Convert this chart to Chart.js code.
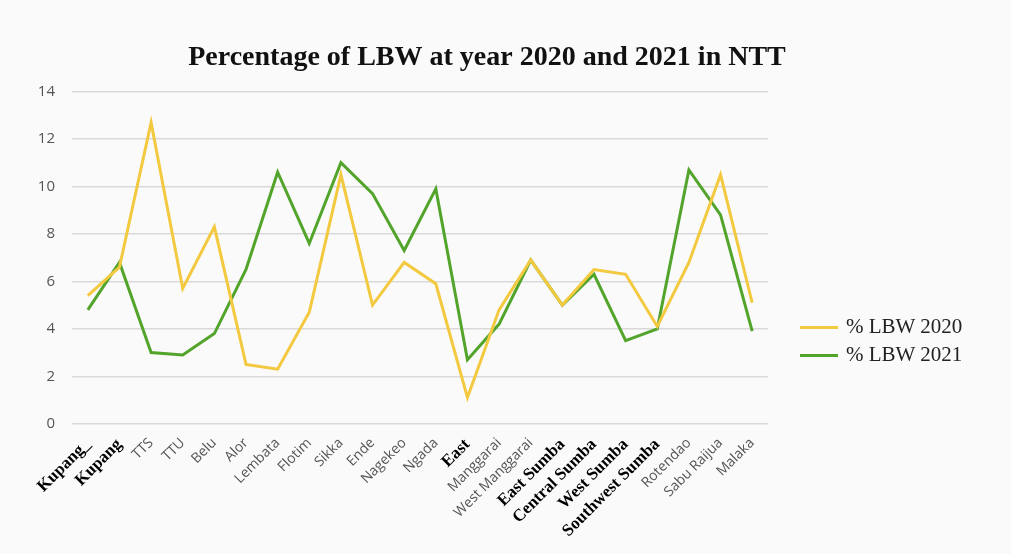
<!DOCTYPE html>
<html>
<head>
<meta charset="utf-8">
<script src="https://cdn.jsdelivr.net/npm/chart.js@4.4.0/dist/chart.umd.min.js"></script>
<style>
  html, body { margin: 0; padding: 0; background: #fafafa; }
  #wrap { position: relative; width: 1011px; height: 554px; }
  .legend { position: absolute; left: 800px; top: 312px; font-family: "Liberation Serif", serif; font-size: 21px; color: #222; }
  .legend div { height: 28px; line-height: 28px; white-space: nowrap; }
  .legend span { display: inline-block; width: 38px; height: 3px; vertical-align: middle; margin-right: 8px; position: relative; top: -1px; }
</style>
</head>
<body>
<div id="wrap">
  <canvas id="lbwChart"></canvas>
  <div class="legend" id="legend"></div>
</div>
<script>
// Districts of NTT
const districts = [
  "Kupang_", "Kupang", "TTS", "TTU", "Belu", "Alor", "Lembata", "Flotim",
  "Sikka", "Ende", "Nagekeo", "Ngada", "East", "Manggarai", "West Manggarai",
  "East Sumba", "Central Sumba", "West Sumba", "Southwest Sumba",
  "Rotendao", "Sabu Raijua", "Malaka"
];

// % LBW per year
const lbw2020 = [5.4, 6.6, 12.7, 5.7, 8.3, 2.5, 2.3, 4.7, 10.5, 5.0, 6.8, 5.9,
  1.1, 4.8, 6.9, 5.0, 6.5, 6.3, 4.1, 6.8, 10.5, 5.1];
const lbw2021 = [4.8, 6.8, 3.0, 2.9, 3.8, 6.5, 10.6, 7.6, 11.0, 9.7, 7.3, 9.9,
  2.7, 4.2, 6.9, 5.0, 6.3, 3.5, 4.0, 10.7, 8.8, 3.9];

const yTicks = [0, 2, 4, 6, 8, 10, 12, 14];

// labels that were pasted over in black serif
const pasted = [0, 1, 12, 15, 16, 17, 18];

const series = [
  { label: "% LBW 2020", data: lbw2020, color: "#f3c93f" },
  { label: "% LBW 2021", data: lbw2021, color: "#52a42b" }
];

const ctx = document.getElementById("lbwChart").getContext("2d");
new Chart(ctx, {
  type: "line",
  data: {
    labels: districts,
    datasets: series.map(s => ({
      label: s.label,
      data: s.data,
      borderColor: s.color,
      backgroundColor: s.color,
      borderWidth: 3,
      pointRadius: 0,
      tension: 0
    }))
  },
  options: {
    responsive: true,
    maintainAspectRatio: false,
    animation: false,
    layout: { padding: { top: 41, right: 37, left: 0, bottom: 10 } },
    plugins: {
      title: {
        display: true,
        text: "Percentage of LBW at year 2020 and 2021 in NTT",
        color: "#111",
        font: { family: "Liberation Serif", size: 28, weight: "bold" },
        padding: { top: 0, bottom: 17 }
      },
      legend: { display: false },
      tooltip: { enabled: false }
    },
    scales: {
      x: {
        offset: true,
        grid: { display: false },
        border: { display: false },
        ticks: {
          autoSkip: false,
          maxRotation: 45,
          minRotation: 45,
          color: c => pasted.includes(c.index) ? "#000" : "#555",
          font: c => pasted.includes(c.index)
            ? { family: "Liberation Serif", size: 17, weight: "bold" }
            : { family: "Open Sans", size: 14 }
        }
      },
      y: {
        min: 0,
        max: 14,
        afterBuildTicks: axis => { axis.ticks = yTicks.map(v => ({ value: v })); },
        afterFit: axis => { axis.width = 72; },
        grid: { color: "#d9d9d9", lineWidth: 1.5, drawTicks: false },
        border: { display: false },
        ticks: {
          padding: 17,
          color: "#555",
          font: { family: "Open Sans", size: 15 }
        }
      },
      // empty box on the right, room for the legend
      side: {
        type: "linear",
        position: "right",
        grid: { display: false },
        border: { display: false },
        ticks: { display: false },
        afterFit: axis => { axis.width = 206; }
      }
    }
  }
});

// legend
document.getElementById("legend").innerHTML = series
  .map(s => `<div><span style="background:${s.color}"></span>${s.label}</div>`)
  .join("");
</script>
</body>
</html>
